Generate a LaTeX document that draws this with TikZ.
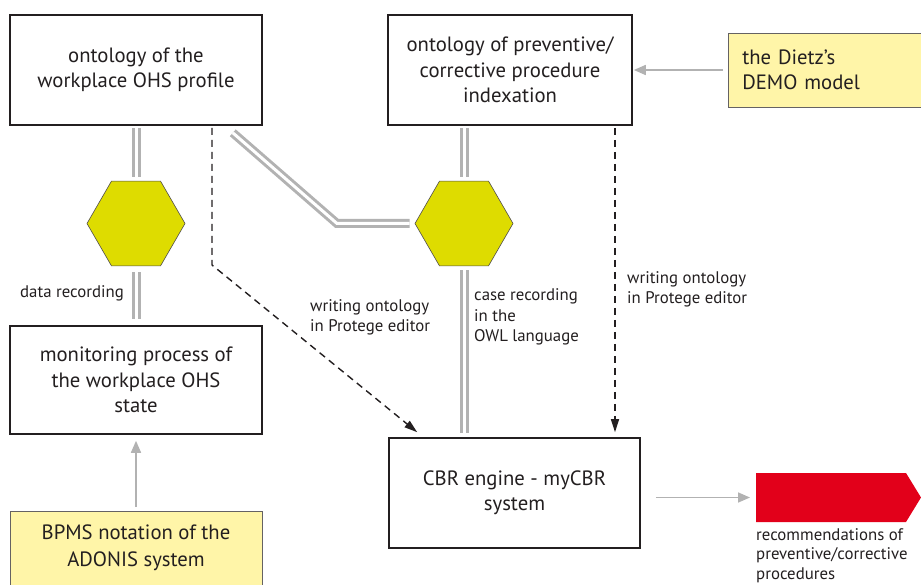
\documentclass[tikz,border=0pt]{standalone}
\usepackage{fontspec}
\setmainfont{PT Sans}
\usetikzlibrary{arrows.meta,shapes.geometric}
\definecolor{ink}{HTML}{231F20}
\definecolor{hexfill}{HTML}{DEDC00}
\definecolor{notefill}{HTML}{FFF5A8}
\definecolor{linkgray}{HTML}{B2B2B2}
\definecolor{outred}{HTML}{E2001A}
\begin{document}
\begin{tikzpicture}[x=1pt,y=-1pt,
  procbox/.style={draw=ink, line width=1.6pt, fill=white, text=ink, align=center,
    font=\fontsize{20.7}{25.5}\selectfont, inner sep=0pt},
  notebox/.style={draw=ink!70, line width=0.6pt, fill=notefill, text=ink,
    font=\fontsize{20.7}{25.5}\selectfont},
  hexnode/.style={regular polygon, regular polygon sides=6, minimum size=98pt,
    inner sep=0pt, fill=hexfill, draw=ink!80, line width=0.6pt},
  dbl/.style={draw=linkgray, line width=3pt, double=white, double distance=3pt},
  grayarrow/.style={draw=linkgray, line width=1.6pt, -{Triangle[length=12pt,width=10pt]}},
  dasharrow/.style={draw=ink, line width=1.4pt, dash pattern=on 7pt off 5pt,
    -{Triangle[length=13pt,width=8pt]}},
  lbl/.style={text=ink, align=left, font=\fontsize{16.8}{20.2}\selectfont, inner sep=0pt}
]
\useasboundingbox (0,0) rectangle (921,585);
\clip (0,0) rectangle (921,585);

% main process boxes
\node[procbox, minimum width=252pt, minimum height=110pt] (A) at (136,70)
  {ontology of the\\workplace OHS profile};
\node[procbox, minimum width=244pt, minimum height=110pt] (B) at (510,70)
  {ontology of preventive/\\corrective procedure\\indexation};
\node[procbox, minimum width=252pt, minimum height=108pt] (C) at (136,380)
  {monitoring process of\\the workplace OHS\\state};
\node[procbox, minimum width=251pt, minimum height=110pt] (D) at (514.5,493)
  {CBR engine - myCBR\\system};

% external sources
\node[notebox, inner xsep=14pt, text width=172pt, minimum height=74pt,
  anchor=west, align=left] (Z) at (728,70) {the Dietz’s\\DEMO model};
\node[notebox, minimum width=252pt, minimum height=100pt, anchor=north] (E) at (136,511) {};
\node[text=ink, align=center, font=\fontsize{20.7}{26.5}\selectfont] (Et) at (136,548)
  {BPMS notation of the\\ADONIS system};

% recording activities
\node[hexnode] (H1) at (136,223.5) {};
\node[hexnode] (H2) at (464,223.5) {};

% output
\fill[outred] (756,473) -- (906,473) -- (921,497.5) -- (906,522) -- (756,522) -- cycle;
\coordinate (R) at (756,497.5);

% double links
\draw[dbl, shorten <=2pt, shorten >=4pt] (A.south) -- (H1.north);
\draw[dbl, shorten <=6pt, shorten >=6pt] (H1.south) -- (C.north);
\draw[dbl, shorten <=2pt, shorten >=4pt] (H2.north |- B.south) -- (H2.north);
\draw[dbl, shorten <=4pt, shorten >=4pt] (H2.south) -- (H2.south |- D.north);
\draw[dbl, shorten >=5pt] ([shift={(-30,7)}]A.south east) -- (337,223.5) -- (H2.west);

% dashed links
\draw[dasharrow] ([shift={(76,2)}]A.south) -- (212,265) -- ([shift={(29,-5)}]D.north west);
\draw[dasharrow] ([shift={(105,2)}]B.south) -- ([shift={(100.5,-5)}]D.north);

% gray arrows
\draw[grayarrow, shorten <=5pt, shorten >=1pt] (Z.west) -- (B.east);
\draw[grayarrow, shorten <=4pt, shorten >=6pt] (E.north) -- (C.south);
\draw[grayarrow, shorten <=15pt, shorten >=6pt] (D.east |- R) -- (R);

% labels
\node[lbl, anchor=east] (l1) at (124,293) {data recording};
\node[lbl, anchor=west] (l2) at (310,317) {writing ontology\\in Protege editor};
\node[lbl, anchor=west] (l3) at (474,317) {case recording\\in the\\OWL language};
\node[lbl, anchor=west] (l4) at (627,289) {writing ontology\\in Protege editor};
\node[lbl, anchor=west, font=\fontsize{16.8}{19.6}\selectfont] (l5) at (756,555.5)
  {recommendations of\\preventive/corrective\\procedures};
\end{tikzpicture}
\end{document}
